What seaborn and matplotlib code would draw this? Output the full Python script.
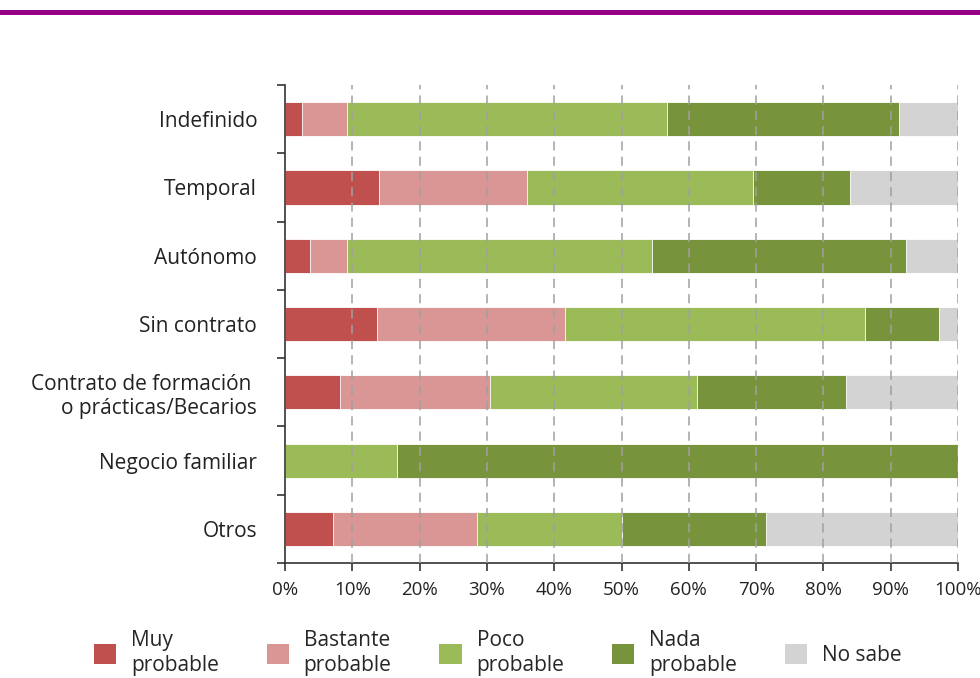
import matplotlib
matplotlib.use("Agg")
import matplotlib.pyplot as plt
import seaborn as sns
import pandas as pd
import numpy as np
from matplotlib.patches import Patch, Rectangle
from matplotlib.ticker import FixedLocator

categories = ["Indefinido", "Temporal", "Autónomo", "Sin contrato",
              "Contrato de formación \no prácticas/Becarios", "Negocio familiar", "Otros"]
series_names = ["Muy\nprobable", "Bastante\nprobable", "Poco\nprobable", "Nada\nprobable", "No sabe"]
muy = [2.6, 13.9, 3.7, 13.7, 8.2, 0.0, 7.1]
bastante = [6.6, 22.0, 5.5, 27.9, 22.3, 0.0, 21.4]
poco = [47.6, 33.7, 45.4, 44.6, 30.7, 16.7, 21.5]
nada = [34.4, 14.4, 37.7, 11.0, 22.1, 83.3, 21.4]
nosabe = [8.8, 16.0, 7.7, 2.8, 16.7, 0.0, 28.6]
xticklabels = ["0%", "10%", "20%", "30%", "40%", "50%", "60%", "70%", "80%", "90%", "100%"]

colors = ["#C0504D", "#DA9694", "#9BBB59", "#77933C", "#D3D3D3"]

sns.set_theme(style="white")
plt.rcParams["font.family"] = ["Open Sans", "DejaVu Sans"]

df = pd.DataFrame({"cat": categories, "s0": muy, "s1": bastante, "s2": poco,
                   "s3": nada, "s4": nosabe})
cols = ["s0", "s1", "s2", "s3", "s4"]
cum = df[cols].cumsum(axis=1)

fig = plt.figure(figsize=(9.8, 6.78), dpi=100)
ax = fig.add_axes([0.2908, 0.1696, 0.6868, 0.705])

for i in range(len(cols) - 1, -1, -1):
    d = pd.DataFrame({"cat": categories, "val": cum[cols[i]]})
    sns.barplot(data=d, x="val", y="cat", orient="h", color=colors[i],
                width=0.5, ax=ax, edgecolor="white", linewidth=0.6,
                saturation=1, zorder=2)

ax.set_xlim(0, 100)
ax.set_ylim(6.5, -0.5)
ax.set_xlabel("")
ax.set_ylabel("")

ax.set_xticks(np.arange(0, 101, 10))
ax.set_xticklabels(xticklabels, fontsize=13.5, color="#222222")
ax.set_yticks(range(len(categories)))
ax.set_yticklabels(categories, fontsize=15, color="#222222")
ax.yaxis.set_minor_locator(FixedLocator(np.arange(-0.5, 7.0, 1.0)))
ax.tick_params(axis="y", which="major", length=0, pad=20)
ax.tick_params(axis="y", which="minor", length=6, width=1.2, color="#333333", left=True)
ax.tick_params(axis="x", which="major", length=6, width=1.2, color="#333333", bottom=True, pad=7)

for x in range(10, 101, 10):
    ax.axvline(x, color="#A0A0A0", linewidth=1.1, linestyle=(0, (6, 4)), zorder=3)

for s in ["top", "right"]:
    ax.spines[s].set_visible(False)
for s in ["left", "bottom"]:
    ax.spines[s].set_color("#333333")
    ax.spines[s].set_linewidth(1.2)
ax.grid(False)

fig.add_artist(Rectangle((0, 1 - 15 / 678), 1, 5 / 678, transform=fig.transFigure,
                         color="#950086", linewidth=0))

handles = [Patch(facecolor=c, edgecolor="none") for c in colors]
fig.legend(handles, series_names, loc="center", bbox_to_anchor=(0.508, 0.037),
           ncol=5, frameon=False, fontsize=15, handlelength=1.06, handleheight=1.06,
           columnspacing=2.3, handletextpad=0.72, labelspacing=0.1)

fig.savefig("out.png", dpi=100)
